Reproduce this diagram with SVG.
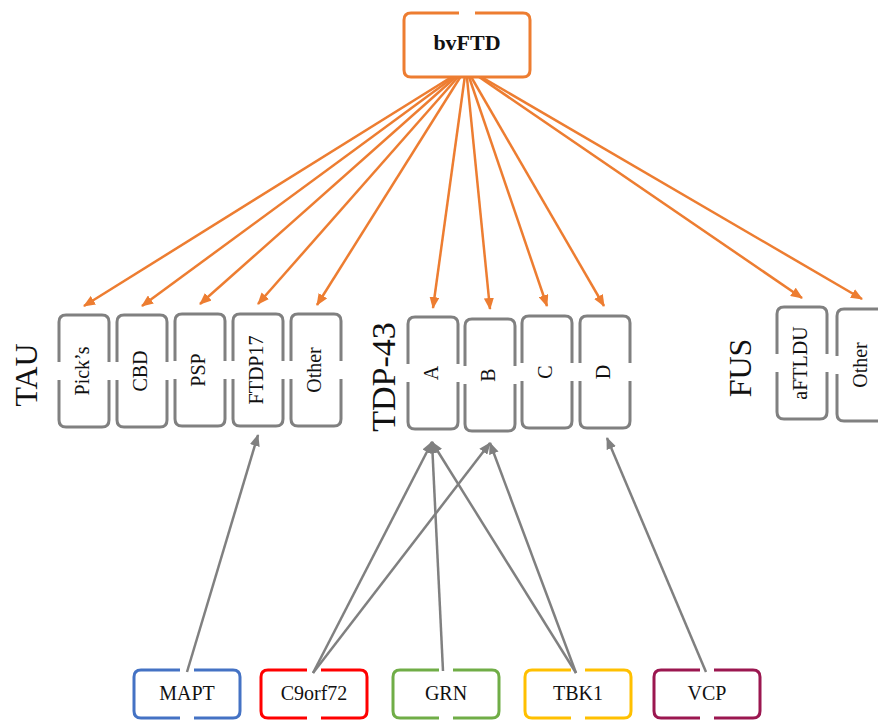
<svg xmlns="http://www.w3.org/2000/svg" width="878" height="722" viewBox="0 0 878 722">
  <style>
    .lbl { font-family: "Liberation Serif", "Times New Roman", serif; font-size: 20px; fill: #111; text-anchor: middle; }
    .grp { font-family: "Liberation Serif", "Times New Roman", serif; fill: #111; text-anchor: middle; }
    .box { fill: #fff; stroke-width: 3; stroke-linecap: butt; }
    .grey { stroke: #808080; }
    .orange-line { stroke: #ED7D31; stroke-width: 2.5; fill: none; marker-end: url(#headO); }
    .grey-line { stroke: #808080; stroke-width: 2.5; fill: none; marker-end: url(#headG); }
  </style>
  <defs>
    <marker id="headO" markerUnits="userSpaceOnUse" markerWidth="12" markerHeight="10" refX="11" refY="5" orient="auto">
      <path d="M0,0 L12,5 L0,10 z" fill="#ED7D31"/>
    </marker>
    <marker id="headG" markerUnits="userSpaceOnUse" markerWidth="12" markerHeight="10" refX="11" refY="5" orient="auto">
      <path d="M0,0 L12,5 L0,10 z" fill="#808080"/>
    </marker>
    <!-- bracket frame 112x50, gaps in the middle of the long edges -->
    <path id="tall" d="M-9,-25 L-49,-25 Q-56,-25 -56,-18 L-56,18 Q-56,25 -49,25 L-9,25 M9,-25 L49,-25 Q56,-25 56,-18 L56,18 Q56,25 49,25 L9,25"/>
    <!-- bracket frame 106x48 for the gene nodes -->
    <path id="wide" d="M-7,-24 L-46,-24 Q-53,-24 -53,-17 L-53,17 Q-53,24 -46,24 L-7,24 M7,-24 L46,-24 Q53,-24 53,-17 L53,17 Q53,24 46,24 L7,24"/>
  </defs>

  <rect width="878" height="722" fill="#fff"/>

  <!-- connectors -->
  <g id="connectors">
    <line class="orange-line" x1="466" y1="68" x2="84" y2="306"/>
    <line class="orange-line" x1="466" y1="68" x2="142" y2="306"/>
    <line class="orange-line" x1="466" y1="68" x2="200" y2="304"/>
    <line class="orange-line" x1="466" y1="68" x2="258" y2="304"/>
    <line class="orange-line" x1="466" y1="68" x2="317" y2="305"/>
    <line class="orange-line" x1="466" y1="68" x2="433" y2="308"/>
    <line class="orange-line" x1="466" y1="68" x2="490" y2="309"/>
    <line class="orange-line" x1="466" y1="68" x2="547" y2="306"/>
    <line class="orange-line" x1="466" y1="68" x2="604" y2="306"/>
    <line class="orange-line" x1="466" y1="68" x2="802" y2="298"/>
    <line class="orange-line" x1="466" y1="68" x2="862" y2="299"/>

    <line class="grey-line" x1="187" y1="672" x2="258" y2="435"/>
    <line class="grey-line" x1="313" y1="673" x2="432" y2="442"/>
    <line class="grey-line" x1="313" y1="673" x2="490" y2="443"/>
    <line class="grey-line" x1="443" y1="671" x2="432" y2="442"/>
    <line class="grey-line" x1="576" y1="673" x2="432" y2="442"/>
    <line class="grey-line" x1="576" y1="673" x2="490" y2="443"/>
    <line class="grey-line" x1="706" y1="672" x2="607" y2="438"/>
  </g>

  <!-- source node -->
  <g id="bvFTD">
    <path class="box" stroke="#ED7D31" d="M459,13 L411,13 Q404,13 404,20 L404,70 Q404,77 411,77 L523,77 Q530,77 530,70 L530,20 Q530,13 523,13 L475,13"/>
    <text x="467" y="50" class="grp" style="font-size:22px;font-weight:bold">bvFTD</text>
  </g>

  <!-- group labels -->
  <text id="label-TAU" class="grp" style="font-size:32px" transform="translate(37,375) rotate(-90)">TAU</text>
  <text id="label-TDP43" class="grp" style="font-size:34px" transform="translate(395,377) rotate(-90)">TDP-43</text>
  <text id="label-FUS" class="grp" style="font-size:32px" transform="translate(751,368) rotate(-90)">FUS</text>

  <!-- TAU subtypes -->
  <g id="picks" transform="translate(84,371) rotate(-90)"><use href="#tall" class="box grey"/><text class="lbl" y="5">Pick’s</text></g>
  <g id="cbd" transform="translate(142,371) rotate(-90)"><use href="#tall" class="box grey"/><text class="lbl" y="5">CBD</text></g>
  <g id="psp" transform="translate(200,370) rotate(-90)"><use href="#tall" class="box grey"/><text class="lbl" y="5">PSP</text></g>
  <g id="ftdp17" transform="translate(258,370) rotate(-90)"><use href="#tall" class="box grey"/><text class="lbl" y="5">FTDP17</text></g>
  <g id="tau-other" transform="translate(316,370) rotate(-90)"><use href="#tall" class="box grey"/><text class="lbl" y="5">Other</text></g>

  <!-- TDP-43 subtypes -->
  <g id="tdp-a" transform="translate(433,373) rotate(-90)"><use href="#tall" class="box grey"/><text class="lbl" y="5">A</text></g>
  <g id="tdp-b" transform="translate(490,375) rotate(-90)"><use href="#tall" class="box grey"/><text class="lbl" y="5">B</text></g>
  <g id="tdp-c" transform="translate(547,372) rotate(-90)"><use href="#tall" class="box grey"/><text class="lbl" y="5">C</text></g>
  <g id="tdp-d" transform="translate(605,372) rotate(-90)"><use href="#tall" class="box grey"/><text class="lbl" y="5">D</text></g>

  <!-- FUS subtypes -->
  <g id="aftldu" transform="translate(802,363) rotate(-90)"><use href="#tall" class="box grey"/><text class="lbl" y="5">aFTLDU</text></g>
  <g id="fus-other" transform="translate(862,365) rotate(-90)"><use href="#tall" class="box grey"/><text class="lbl" y="5">Other</text></g>

  <!-- genes -->
  <g id="mapt" transform="translate(187,694)"><use href="#wide" class="box" stroke="#4472C4"/><text class="lbl" y="6">MAPT</text></g>
  <g id="c9orf72" transform="translate(314,694)"><use href="#wide" class="box" stroke="#FF0000"/><text class="lbl" y="6">C9orf72</text></g>
  <g id="grn" transform="translate(446,694)"><use href="#wide" class="box" stroke="#70AD47"/><text class="lbl" y="6">GRN</text></g>
  <g id="tbk1" transform="translate(578,694)"><use href="#wide" class="box" stroke="#FFC000"/><text class="lbl" y="6">TBK1</text></g>
  <g id="vcp" transform="translate(707,694)"><use href="#wide" class="box" stroke="#9B1750"/><text class="lbl" y="6">VCP</text></g>
</svg>
